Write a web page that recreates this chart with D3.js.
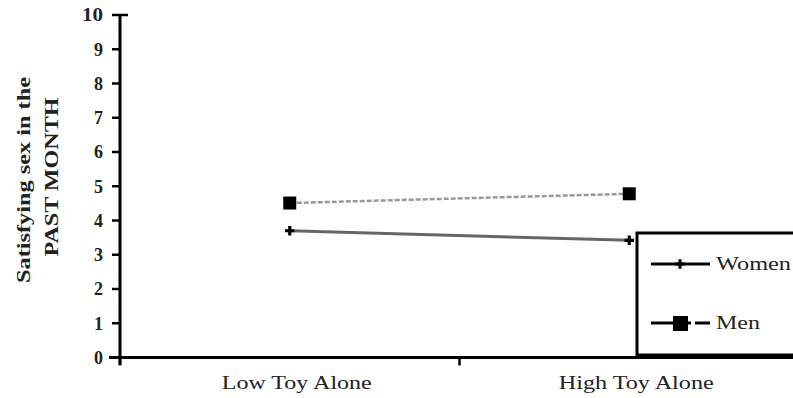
<!DOCTYPE html>
<html><head><meta charset="utf-8">
<script src="https://cdn.jsdelivr.net/npm/d3@7"></script>
<style>body{margin:0;background:#fff}svg{display:block}</style>
</head><body>
<script>
const categories = ["Low Toy Alone", "High Toy Alone"];
const women = [3.70, 3.42];
const men = [4.51, 4.78];
const yTicks = [0,1,2,3,4,5,6,7,8,9,10];
const seriesNames = ["Women", "Men"];

const W = 793, H = 398;
const svg = d3.select("body").append("svg").attr("width", W).attr("height", H);
const y = d3.scaleLinear().domain([0, 10]).range([357.5, 15]);
const x = d3.scaleBand().domain(categories).range([120, 799]).padding(0);
const font = "Liberation Serif, Times New Roman, serif";
const txt = "#222";

// Y axis
svg.append("line").attr("x1",120).attr("x2",120).attr("y1",y(10)).attr("y2",365)
  .attr("stroke","#000").attr("stroke-width",3);
const yg = svg.append("g");
yTicks.forEach(t => {
  yg.append("line").attr("x1",112).attr("x2", t===10 ? 128 : 120).attr("y1",y(t)).attr("y2",y(t))
    .attr("stroke","#000").attr("stroke-width",2.5);
  const tx = yg.append("text").attr("x",103).attr("y",y(t)).attr("dy","0.35em").attr("text-anchor","end")
    .attr("font-family",font).attr("font-weight","bold").attr("font-size",18).attr("fill",txt).text(t);
  if (t === 10) tx.attr("textLength",21).attr("lengthAdjust","spacingAndGlyphs");
});

// X axis
svg.append("line").attr("x1",109).attr("x2",W).attr("y1",y(0)).attr("y2",y(0))
  .attr("stroke","#000").attr("stroke-width",3);
const bounds = [x(categories[0]), x(categories[1])];
bounds.forEach(b => {
  svg.append("line").attr("x1",b).attr("x2",b).attr("y1",y(0)).attr("y2",y(0)+8)
    .attr("stroke","#000").attr("stroke-width",2.5);
});
const catLen = [150, 155];
categories.forEach((c,i) => {
  svg.append("text").attr("x", x(c)+x.bandwidth()/2 + 7).attr("y",389)
    .attr("text-anchor","middle").attr("font-family",font).attr("font-size",19).attr("fill",txt)
    .attr("textLength",catLen[i]).attr("lengthAdjust","spacingAndGlyphs").text(c);
});

// Y title
const tg = svg.append("g").attr("font-family",font).attr("font-weight","bold").attr("font-size",19).attr("fill",txt);
tg.append("text").attr("transform","translate(30,180) rotate(-90)").attr("text-anchor","middle")
  .attr("textLength",206).attr("lengthAdjust","spacingAndGlyphs").text("Satisfying sex in the");
tg.append("text").attr("transform","translate(58,177) rotate(-90)").attr("text-anchor","middle")
  .attr("textLength",159).attr("lengthAdjust","spacingAndGlyphs").text("PAST MONTH");

const cx = c => x(c) + x.bandwidth()/2;

// Lines
const line = d3.line().x((d,i)=>cx(categories[i])).y(d=>y(d));
svg.append("path").datum(men).attr("d",line).attr("fill","none").attr("stroke","#999").attr("stroke-width",2.5).attr("stroke-dasharray","5,2");
svg.append("path").datum(women).attr("d",line).attr("fill","none").attr("stroke","#666").attr("stroke-width",3);

// markers
const star = d3.symbol().type(d3.symbolCross).size(50);
women.forEach((v,i)=>{
  svg.append("path").attr("d",star).attr("transform",`translate(${cx(categories[i])},${y(v)})`).attr("fill","#000");
});
men.forEach((v,i)=>{
  svg.append("rect").attr("x",cx(categories[i])-6.5).attr("y",y(v)-6.5).attr("width",13).attr("height",13).attr("fill","#000");
});

// Legend
const lg = svg.append("g");
lg.append("rect").attr("x",637).attr("y",233).attr("width",220).attr("height",122)
  .attr("fill","#fff").attr("stroke","#000").attr("stroke-width",3);
lg.append("line").attr("x1",651).attr("x2",710).attr("y1",264).attr("y2",264).attr("stroke","#000").attr("stroke-width",3);
lg.append("path").attr("d",star).attr("transform","translate(680,264)").attr("fill","#000");
lg.append("line").attr("x1",651).attr("x2",691).attr("y1",323).attr("y2",323).attr("stroke","#000").attr("stroke-width",3);
lg.append("line").attr("x1",695).attr("x2",710).attr("y1",323).attr("y2",323).attr("stroke","#000").attr("stroke-width",3);
lg.append("rect").attr("x",673).attr("y",316).attr("width",15).attr("height",15).attr("fill","#000");
const legLen = [75, 44];
[ [264, seriesNames[0]], [323, seriesNames[1]] ].forEach(([yy,t],i)=>{
  lg.append("text").attr("x",716).attr("y",yy).attr("dy","0.35em").attr("font-family",font)
    .attr("font-size",18).attr("fill",txt).attr("textLength",legLen[i]).attr("lengthAdjust","spacingAndGlyphs").text(t);
});
</script>
</body></html>
